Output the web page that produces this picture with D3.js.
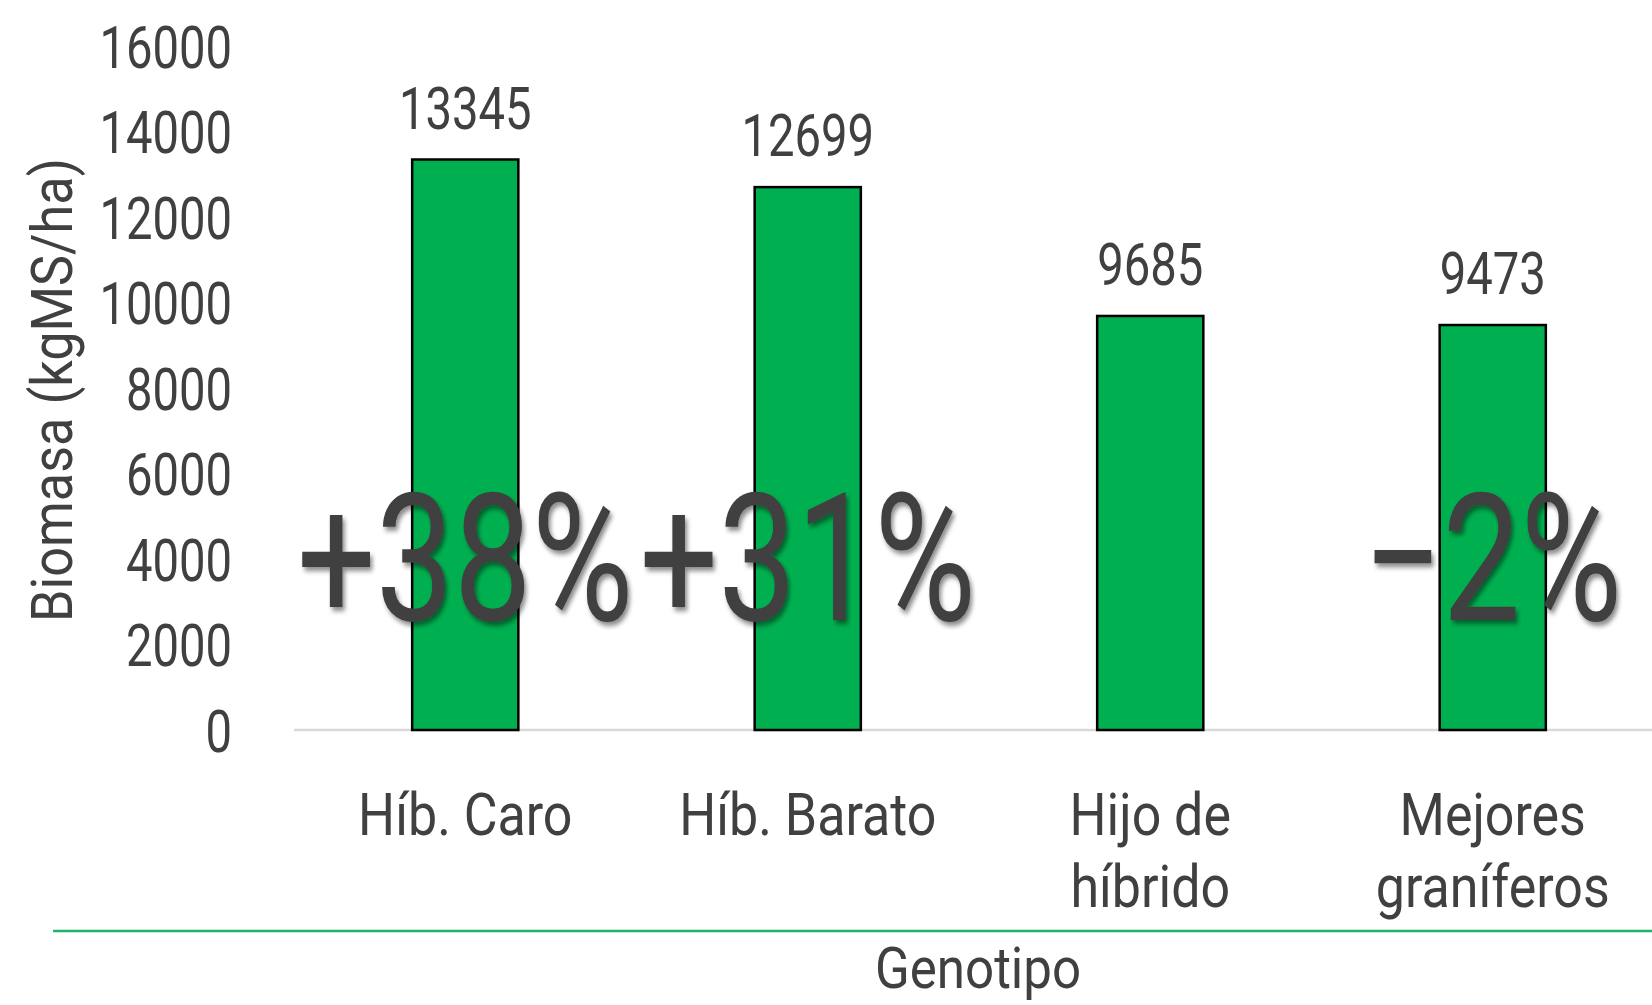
<!DOCTYPE html>
<html>
<head>
<meta charset="utf-8">
<script src="https://cdn.jsdelivr.net/npm/d3@7"></script>
<style>
	body { margin: 0; background: #fff; }
	text { font-family: Roboto, "Noto Sans", sans-serif; fill: #404040; }
</style>
</head>
<body>
<div id="chart"></div>
<script>
	var genotipos = [["Híb. Caro"], ["Híb. Barato"], ["Hijo de", "híbrido"], ["Mejores", "graníferos"]];
	var biomasa = [13345, 12699, 9685, 9473];
	var diferencias = ["+38%", "+31%", "", "\u22122%"];
	var yTicks = [0, 2000, 4000, 6000, 8000, 10000, 12000, 14000, 16000];

	var width = 1652,
		height = 1005;
	var sx = 0.8; // numeros condensados
	var sxTexto = 0.88; // etiquetas

	var svg = d3.select("#chart")
		.append("svg")
		.attr("width", width)
		.attr("height", height);

	var defs = svg.append("defs");
	defs.append("filter")
		.attr("id", "sombra")
		.attr("x", "-20%").attr("y", "-20%")
		.attr("width", "140%").attr("height", "140%")
		.append("feDropShadow")
		.attr("dx", 3).attr("dy", 4)
		.attr("stdDeviation", 2.5)
		.attr("flood-color", "#000")
		.attr("flood-opacity", 0.45);

	var x = d3.scaleBand()
		.domain(d3.range(biomasa.length))
		.range([294, 1664])
		.paddingInner(0.69)
		.paddingOuter(0.345);

	var y = d3.scaleLinear()
		.domain([0, 16000])
		.range([730, 46]);

	// eje y
	var yAxis = svg.append("g")
		.attr("transform", "translate(294,0)")
		.call(d3.axisLeft(y).tickValues(yTicks).tickSize(0).tickFormat(d3.format("d")));
	yAxis.select(".domain").remove();
	yAxis.selectAll("text")
		.attr("x", -62 / sx)
		.attr("dy", "0.36em")
		.attr("transform", "scale(" + sx + ",1)")
		.style("font-size", "59px")
		.style("fill", "#404040")
		.style("font-family", "Roboto, sans-serif");

	// linea base
	svg.append("line")
		.attr("x1", 294).attr("x2", width)
		.attr("y1", y(0)).attr("y2", y(0))
		.attr("stroke", "#d9d9d9")
		.attr("stroke-width", 2.5);

	// barras
	svg.selectAll(".barra")
		.data(biomasa)
		.enter().append("rect")
		.attr("class", "barra")
		.attr("x", function(d, i) { return x(i); })
		.attr("y", function(d) { return y(d); })
		.attr("width", x.bandwidth())
		.attr("height", function(d) { return y(0) - y(d); })
		.attr("fill", "#00b050")
		.attr("stroke", "#000")
		.attr("stroke-width", 2.5);

	// valores
	svg.selectAll(".valor")
		.data(biomasa)
		.enter().append("text")
		.attr("class", "valor")
		.attr("transform", function(d, i) {
			return "translate(" + (x(i) + x.bandwidth() / 2) + "," + (y(d) - 31) + ") scale(" + sx + ",1)";
		})
		.attr("text-anchor", "middle")
		.style("font-size", "59px")
		.text(function(d) { return d; });

	// porcentajes grandes
	svg.selectAll(".dif")
		.data(diferencias)
		.enter().append("text")
		.attr("class", "dif")
		.attr("transform", function(d, i) {
			return "translate(" + (x(i) + x.bandwidth() / 2) + ",620) scale(0.78,1)";
		})
		.attr("text-anchor", "middle")
		.attr("filter", "url(#sombra)")
		.style("font-size", "178px")
		.text(function(d) { return d; });

	// etiquetas x
	var etiquetas = svg.selectAll(".cat")
		.data(genotipos)
		.enter().append("text")
		.attr("class", "cat")
		.attr("transform", function(d, i) {
			return "translate(" + (x(i) + x.bandwidth() / 2) + ",835) scale(" + sxTexto + ",1)";
		})
		.attr("text-anchor", "middle")
		.style("font-size", "59px");
	etiquetas.selectAll("tspan")
		.data(function(d) { return d; })
		.enter().append("tspan")
		.attr("x", 0)
		.attr("y", function(d, j) { return j * 72; })
		.text(function(d) { return d; });

	// linea verde
	svg.append("line")
		.attr("x1", 53).attr("x2", width)
		.attr("y1", 931).attr("y2", 931)
		.attr("stroke", "#1fb36b")
		.attr("stroke-width", 2.5);

	svg.append("text")
		.attr("transform", "translate(978,988) scale(" + sxTexto + ",1)")
		.attr("text-anchor", "middle")
		.style("font-size", "58px")
		.text("Genotipo");

	svg.append("text")
		.attr("transform", "translate(72,390) rotate(-90) scale(0.9,1)")
		.attr("text-anchor", "middle")
		.style("font-size", "58px")
		.text("Biomasa (kgMS/ha)");
</script>
</body>
</html>
